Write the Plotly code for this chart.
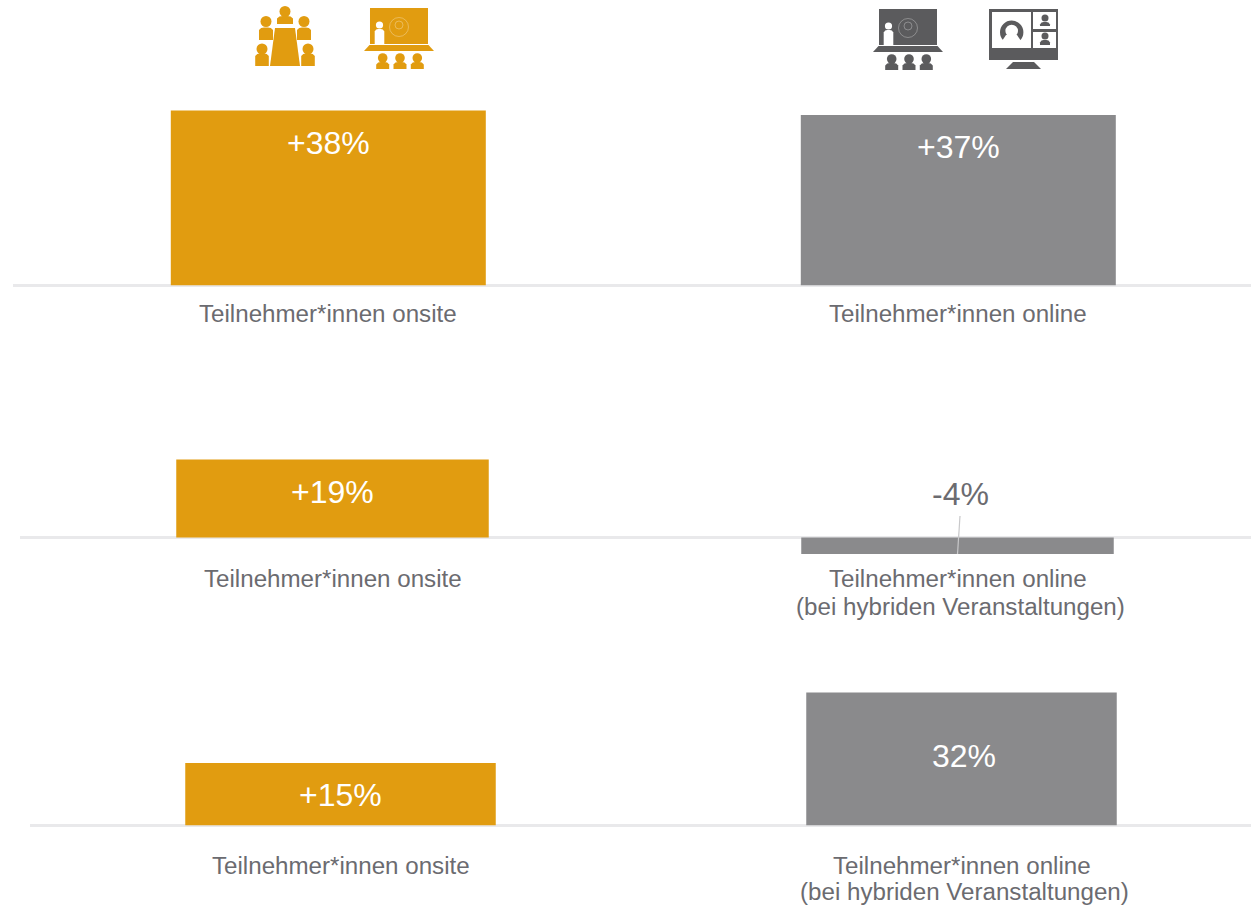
import plotly.graph_objects as go

W, H = 1251, 906
GOLD, GRAY, DARK, TEXT, RULE = "#E19C10", "#8A8A8C", "#5B5B5D", "#6B6B70", "#E9E9EB"

row1_labels = ["Teilnehmer*innen onsite", "Teilnehmer*innen online"]
row2_labels = ["Teilnehmer*innen onsite", "Teilnehmer*innen online<br>(bei hybriden Veranstaltungen)"]
row3_labels = ["Teilnehmer*innen onsite", "Teilnehmer*innen online<br>(bei hybriden Veranstaltungen)"]
row1_values = [38, 37]
row2_values = [19, -4]
row3_values = [15, 32]
row1_text = ["+38%", "+37%"]
row2_text = ["+19%", "-4%"]
row3_text = ["+15%", "32%"]

# layout of each chart: left edge, category spacing, baseline, px per percent, label gap,
# line spacing, vertical and horizontal value-label offsets
rows = [
    dict(labels=row1_labels, values=row1_values, text=row1_text, left=13.3, band=630, base=285.2, scale=4.6,
         gap=28.3, leading=28, top=80, bottom=330, shift=[-33, -32], xshift=[0, 0]),
    dict(labels=row2_labels, values=row2_values, text=row2_text, left=20, band=625, base=537.5, scale=4.1,
         gap=40.7, leading=28, top=440, bottom=640, shift=[-32, 60], xshift=[0, 2.5]),
    dict(labels=row3_labels, values=row3_values, text=row3_text, left=30, band=621, base=825.2, scale=4.15,
         gap=40.2, leading=26.5, top=670, bottom=906, shift=[-32, -64], xshift=[0, 2]),
]

fig = go.Figure()
annotations = []
layout = {}
for i, r in enumerate(rows, start=1):
    suffix = "" if i == 1 else str(i)
    fig.add_bar(x=[0, 1], y=r["values"], width=0.5, marker=dict(color=[GOLD, GRAY], line_width=0),
                xaxis=f"x{suffix}", yaxis=f"y{suffix}", hoverinfo="skip", showlegend=False)
    layout[f"xaxis{suffix}"] = dict(domain=[r["left"] / W, 1], anchor=f"y{suffix}", visible=False, fixedrange=True,
                                    range=[-0.5, (W - r["left"]) / r["band"] - 0.5])
    layout[f"yaxis{suffix}"] = dict(domain=[1 - r["bottom"] / H, 1 - r["top"] / H], anchor=f"x{suffix}",
                                    range=[(r["base"] - r["bottom"]) / r["scale"], (r["base"] - r["top"]) / r["scale"]],
                                    showgrid=False, showticklabels=False, ticks="", fixedrange=True,
                                    zeroline=True, zerolinecolor=RULE, zerolinewidth=3, showline=False)
    for j in range(2):
        val = r["values"][j]
        annotations.append(dict(x=j, y=val, xref=f"x{suffix}", yref=f"y{suffix}", text=r["text"][j], showarrow=False,
                                yanchor="middle", yshift=r["shift"][j], xshift=r["xshift"][j],
                                font=dict(size=32, color=TEXT if val < 0 else "white")))
        for k, line in enumerate(r["labels"][j].split("<br>")):
            annotations.append(dict(x=j, y=0, xref=f"x{suffix}", yref=f"y{suffix}", text=line, showarrow=False,
                                    yanchor="middle", yshift=-(r["gap"] + r["leading"] * k), xshift=3.2 * k,
                                    font=dict(size=24.15, color=TEXT)))


def X(x):
    return x / W


def Y(y):
    return 1 - y / H


def poly(points, color):
    d = "M" + " L".join(f"{X(x):.5f},{Y(y):.5f}" for x, y in points) + " Z"
    return dict(type="path", xref="paper", yref="paper", path=d, fillcolor=color, line_width=0, layer="above")


def circle(cx, cy, r, color, line=None):
    return dict(type="circle", xref="paper", yref="paper", x0=X(cx - r), x1=X(cx + r), y0=Y(cy + r), y1=Y(cy - r),
                fillcolor=color if line is None else "rgba(0,0,0,0)",
                line=dict(width=0) if line is None else dict(color=line, width=0.6), layer="above")


def person(cx, head_y, head_r, x_half, y0, y1, color):
    c = x_half * 0.7
    return [circle(cx, head_y, head_r, color),
            poly([(cx - x_half, y1), (cx - x_half, y0 + 2.5), (cx - c, y0 + 0.6), (cx - c * 0.4, y0), (cx + c * 0.4, y0),
                  (cx + c, y0 + 0.6), (cx + x_half, y0 + 2.5), (cx + x_half, y1)], color)]


def board(dx, dy, color):
    s = [poly([(370 + dx, 8 + dy), (428 + dx, 8 + dy), (428 + dx, 44 + dy), (370 + dx, 44 + dy)], color),
         poly([(369.5 + dx, 45 + dy), (428.5 + dx, 45 + dy), (434 + dx, 51 + dy), (364 + dx, 51 + dy)], color),
         circle(399 + dx, 27 + dy, 9.5, None, "rgba(255,255,255,0.5)"),
         circle(399 + dx, 25 + dy, 4, None, "rgba(255,255,255,0.5)")]
    s += person(379.5 + dx, 25 + dy, 3.6, 4.8, 29 + dy, 44 + dy, "white")
    for cx in (382.7, 400, 417.3):
        s += person(cx + dx, 58 + dy, 4.8, 6.5, 62 + dy, 69 + dy, color)
    return s


shapes = []
# meeting table icon
shapes.append(poly([(275, 28), (295, 28), (300, 66), (270, 66)], GOLD))
shapes += person(285, 11.5, 5.5, 8, 16, 24, GOLD)
shapes += person(266, 21.5, 5.5, 7, 27.5, 40, GOLD)
shapes += person(304, 21.5, 5.5, 7, 27.5, 40, GOLD)
shapes += person(262, 49, 5.5, 6.8, 53.5, 66, GOLD)
shapes += person(308, 49, 5.5, 6.8, 53.5, 66, GOLD)
# presenter icons
shapes += board(0, 0, GOLD)
shapes += board(509, 1, DARK)
# monitor icon
shapes.append(poly([(989, 9), (1058, 9), (1058, 60), (989, 60)], DARK))
shapes.append(poly([(992, 12), (1031, 12), (1031, 48), (992, 48)], "white"))
shapes.append(poly([(1033, 12), (1056, 12), (1056, 29), (1033, 29)], "white"))
shapes.append(poly([(1033, 32), (1056, 32), (1056, 48), (1033, 48)], "white"))
shapes.append(poly([(1013, 62), (1034, 62), (1041, 69), (1006, 69)], DARK))
shapes.append(circle(1011.7, 32.3, 11.7, DARK))
shapes.append(circle(1011.7, 31, 6.3, "white"))
shapes.append(poly([(1006, 35), (1017, 35), (1021, 41), (1002, 41)], "white"))
shapes.append(poly([(998, 40.5), (1025, 40.5), (1025, 46), (998, 46)], "white"))
shapes += person(1045, 18, 3.5, 5, 22, 26, DARK)
shapes += person(1045, 36, 3.5, 5, 40, 45, DARK)
# leader line of the -4% label
shapes.append(dict(type="line", xref="paper", yref="paper", x0=X(960), y0=Y(516), x1=X(957.5), y1=Y(554),
                   line=dict(color="#C8C8CA", width=1.2), layer="above"))

fig.update_layout(width=W, height=H, margin=dict(l=0, r=0, t=0, b=0), paper_bgcolor="white", plot_bgcolor="rgba(0,0,0,0)",
                  font=dict(family="Liberation Sans, Arial, sans-serif"), showlegend=False,
                  annotations=annotations, shapes=shapes, **layout)
fig.write_html("out.html", config=dict(displayModeBar=False),
               post_script="document.body.style.margin='0';document.documentElement.style.overflow='hidden';")
